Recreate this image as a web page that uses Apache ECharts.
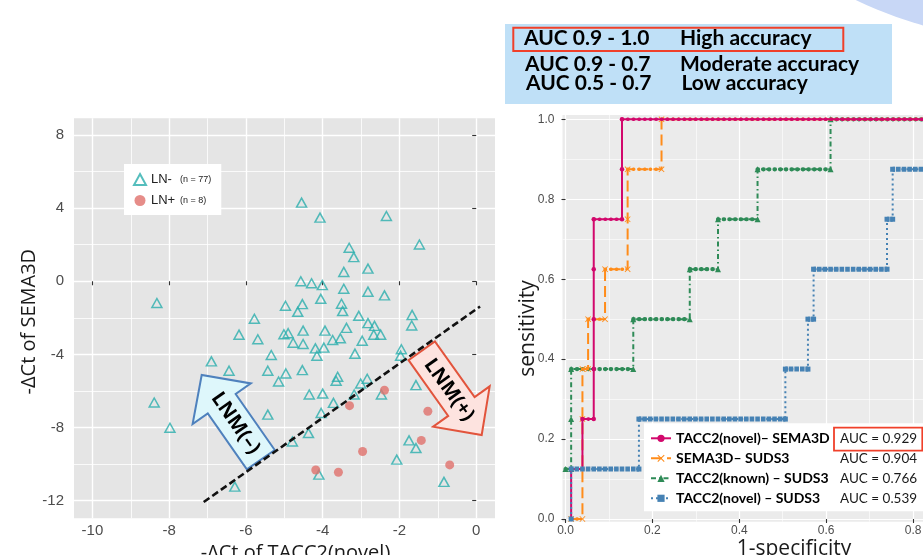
<!DOCTYPE html>
<html>
<head>
<meta charset="utf-8">
<script src="https://cdn.jsdelivr.net/npm/echarts@6/dist/echarts.min.js"></script>
<style>
html, body { margin: 0; padding: 0; background: #fff; }
#main { width: 923px; height: 555px; }
</style>
</head>
<body>
<div id="main"></div>
<script>
// left panel: -dCt of TACC2(novel) (x) vs -dCt of SEMA3D (y)
const lnNeg = [
  [-4.55, 4.30], [-4.07, 3.48], [-2.34, 3.57], [-1.48, 2.01], [-3.31, 1.83], [-3.19, 1.32],
  [-2.82, 0.69], [-3.45, 0.51], [-4.57, 0.00], [-4.29, -0.11], [-4.01, -0.21], [-3.45, -0.41],
  [-2.82, -0.57], [-2.39, -0.77], [-4.05, -0.96], [-8.32, -1.19], [-4.97, -1.34], [-4.53, -1.25],
  [-4.65, -1.67], [-3.51, -1.23], [-3.48, -1.63], [-5.78, -2.05], [-3.06, -1.89], [-1.67, -1.84],
  [-1.68, -2.42], [-2.82, -2.29], [-2.65, -2.44], [-6.18, -2.92], [-5.01, -2.90], [-4.90, -2.84],
  [-4.51, -2.70], [-3.94, -2.70], [-3.38, -2.55], [-2.67, -2.92], [-2.49, -2.92], [-5.69, -3.17],
  [-4.77, -3.36], [-4.51, -3.43], [-3.74, -3.21], [-3.54, -3.12], [-2.97, -3.25], [-4.19, -3.67],
  [-3.97, -3.63], [-4.15, -4.07], [-3.16, -3.96], [-1.95, -3.72], [-1.97, -4.07], [-5.34, -4.03],
  [-6.90, -4.38], [-6.44, -4.89], [-5.43, -4.89], [-4.96, -5.04], [-4.53, -4.86], [-5.15, -5.48],
  [-3.61, -5.22], [-3.65, -5.44], [-2.84, -5.33], [-3.01, -5.59], [-1.57, -5.68], [-4.35, -6.19],
  [-4.00, -6.14], [-2.47, -6.19], [-3.18, -6.19], [-8.39, -6.63], [-3.72, -6.65], [-4.04, -7.20],
  [-5.43, -7.29], [-7.98, -8.01], [-4.37, -8.30], [-4.79, -8.76], [-1.75, -8.70], [-1.57, -9.12],
  [-2.07, -9.75], [-4.10, -10.57], [-6.29, -11.23], [-0.84, -10.97]
];
const lnPos = [
  [-2.39, -5.96], [-3.30, -6.80], [-1.26, -7.11], [-1.43, -8.70],
  [-2.96, -9.31], [-4.18, -10.32], [-3.59, -10.44], [-0.69, -10.04]
];
const lnNames = ['LN-', 'LN+'];
const lnCounts = ['(n = 77)', '(n = 8)'];
const cutLine = [[-7.10, -12.07], [0.10, -1.38]];
const leftXTicks = [-10, -8, -6, -4, -2, 0];
const leftXMinor = [-9, -7, -5, -3, -1];
const leftYTicks = [-12, -8, -4, 0, 4, 8];
const leftYMinor = [-10, -6, -2, 2, 6];

// right panel: ROC curves (1-specificity, sensitivity)
const rocNames = ['TACC2(novel)– SEMA3D', 'SEMA3D– SUDS3', 'TACC2(known) – SUDS3', 'TACC2(novel) – SUDS3'];
const rocAuc = ['AUC = 0.929', 'AUC = 0.904', 'AUC = 0.766', 'AUC = 0.539'];
const rocNovelSema3d = [[0.013, 0], [0.013, 0.125], [0.039, 0.125], [0.039, 0.25], [0.065, 0.25], [0.065, 0.375],
  [0.065, 0.5], [0.065, 0.625], [0.065, 0.75], [0.13, 0.75], [0.13, 0.875], [0.13, 1], [1, 1]];
const rocSema3dSuds3 = [[0.013, 0], [0.039, 0], [0.039, 0.25], [0.039, 0.375], [0.052, 0.375], [0.052, 0.5],
  [0.091, 0.5], [0.091, 0.625], [0.143, 0.625], [0.143, 0.75], [0.143, 0.875], [0.221, 0.875], [0.221, 1], [1, 1]];
const rocKnownSuds3 = [[0, 0.125], [0.013, 0.125], [0.013, 0.25], [0.013, 0.375], [0.156, 0.375], [0.156, 0.5],
  [0.286, 0.5], [0.286, 0.625], [0.351, 0.625], [0.351, 0.75], [0.442, 0.75], [0.442, 0.875], [0.61, 0.875], [0.61, 1], [1, 1]];
const rocNovelSuds3 = [[0.013, 0], [0.013, 0.125], [0.169, 0.125], [0.169, 0.25], [0.506, 0.25], [0.506, 0.375],
  [0.558, 0.375], [0.558, 0.5], [0.571, 0.5], [0.571, 0.625], [0.74, 0.625], [0.74, 0.75], [0.753, 0.75],
  [0.753, 0.875], [0.87, 0.875], [0.87, 1], [1, 1]];
const rocXTicks = [0, 0.2, 0.4, 0.6, 0.8];
const rocXMinor = [0.1, 0.3, 0.5, 0.7];
const rocYTicks = [0, 0.2, 0.4, 0.6, 0.8, 1.0];
const rocYMinor = [0.1, 0.3, 0.5, 0.7, 0.9];

const accuracyRows = [['AUC 0.9 - 1.0', 'High accuracy'], ['AUC 0.9 - 0.7', 'Moderate accuracy'], ['AUC 0.5 - 0.7', 'Low accuracy']];

const rocData = [rocNovelSema3d, rocSema3dSuds3, rocKnownSuds3, rocNovelSuds3];
const rocColors = ['#d2086c', '#ff8c1a', '#2e8b57', '#4682b4'];
const rocLineTypes = ['solid', [11, 5], [5, 3, 1.5, 3], [2, 3]];
const crossPath = 'path://M0,1L1,0L5,4L9,0L10,1L6,5L10,9L9,10L5,6L1,10L0,9L4,5Z';
const rocSymbols = ['circle', crossPath, 'triangle', 'rect'];
const rocSymbolSizes = [4.5, 6, 6, 5];
const rocZ = [5, 4, 3, 6];
const rocMarkStyle = [
  { width: 3.6, type: [0.5, 5.15], cap: 'round' },
  { width: 3.4, type: [0.5, 5.15], cap: 'round' },
  { width: 4.2, type: [0.5, 5.15], cap: 'round' },
  { width: 5, type: [4.6, 1.05], cap: 'butt', dashOffset: 2.3 }
];

const tickFont = '"Liberation Sans", Arial, sans-serif';
const titleFont = '"Open Sans", "Noto Sans", sans-serif';
const boxFont = 'bold 21px Lato, "Open Sans", sans-serif';

// horizontal runs of a step curve, used to draw the dense row of ROC points
function flatRuns(points) {
  const out = [];
  for (let i = 0; i < points.length - 1; i++) {
    if (points[i][1] === points[i + 1][1] && points[i][0] !== points[i + 1][0]) {
      out.push(points[i], points[i + 1], ['-', '-']);
    }
  }
  return out;
}

function arrowShape(base, tip, shaftW, headW, headL) {
  const dx = tip[0] - base[0], dy = tip[1] - base[1];
  const len = Math.hypot(dx, dy);
  const ux = dx / len, uy = dy / len, px = -uy, py = ux;
  const hb = [tip[0] - ux * headL, tip[1] - uy * headL];
  const p = (c, w) => [c[0] + px * w, c[1] + py * w];
  return [p(base, shaftW / 2), p(hb, shaftW / 2), p(hb, headW / 2), tip,
          p(hb, -headW / 2), p(hb, -shaftW / 2), p(base, -shaftW / 2)];
}

const chart = echarts.init(document.getElementById('main'));

const axisTickStyle = { show: true, length: 4, lineStyle: { color: '#333', width: 1.1 } };

const rocSeries = [];
rocData.forEach((d, i) => {
  rocSeries.push({
    name: rocNames[i],
    type: 'line',
    xAxisIndex: 2, yAxisIndex: 2,
    data: d,
    z: rocZ[i],
    symbol: rocSymbols[i],
    symbolSize: rocSymbolSizes[i],
    showSymbol: true,
    itemStyle: { color: rocColors[i] },
    lineStyle: { color: rocColors[i], width: 2, type: rocLineTypes[i] },
    emphasis: { disabled: true },
    silent: true,
    animation: false
  });
  rocSeries.push({
    name: rocNames[i] + ' points',
    type: 'line',
    xAxisIndex: 2, yAxisIndex: 2,
    data: flatRuns(d),
    z: rocZ[i],
    symbol: 'none',
    lineStyle: Object.assign({ color: rocColors[i] }, rocMarkStyle[i]),
    emphasis: { disabled: true },
    silent: true,
    animation: false
  });
});

const option = {
  animation: false,
  grid: [
    { left: 74, top: 118.3, width: 421, height: 400, show: true, backgroundColor: '#e5e5e5', borderWidth: 0, outerBoundsMode: 'none' },
    { left: 562.5, top: 115, right: 0, height: 406.7, show: true, backgroundColor: '#ebebeb', borderWidth: 0, outerBoundsMode: 'none' }
  ],
  xAxis: [
    { type: 'value', gridIndex: 0, min: -10.48, max: 0.49,
      axisLine: { show: false },
      axisTick: Object.assign({ customValues: leftXTicks }, axisTickStyle),
      axisLabel: { customValues: leftXTicks, margin: 5, color: '#4d4d4d', fontSize: 15, fontFamily: tickFont },
      splitLine: { show: true, lineStyle: { color: '#fff', width: 1.4 } } },
    { type: 'value', gridIndex: 0, min: -10.48, max: 0.49,
      axisLine: { show: false }, axisTick: { show: false, customValues: leftXMinor }, axisLabel: { show: false },
      splitLine: { show: true, lineStyle: { color: '#fff', width: 0.8 } } },
    { type: 'value', gridIndex: 1, min: -0.0069, max: 0.8228,
      axisLine: { show: false },
      axisTick: Object.assign({ customValues: rocXTicks }, axisTickStyle),
      axisLabel: { customValues: rocXTicks, margin: 3, color: '#4d4d4d', fontSize: 12, fontFamily: tickFont,
        formatter: v => v.toFixed(1) },
      splitLine: { show: true, lineStyle: { color: '#fff', width: 1.2 } } },
    { type: 'value', gridIndex: 1, min: -0.0069, max: 0.8228,
      axisLine: { show: false }, axisTick: { show: false, customValues: rocXMinor }, axisLabel: { show: false },
      splitLine: { show: true, lineStyle: { color: '#fff', width: 0.6 } } }
  ],
  yAxis: [
    { type: 'value', gridIndex: 0, min: -12.96, max: 8.91,
      axisLine: { show: false },
      axisTick: Object.assign({ customValues: leftYTicks }, axisTickStyle),
      axisLabel: { customValues: leftYTicks, margin: 10, color: '#4d4d4d', fontSize: 15, fontFamily: tickFont },
      splitLine: { show: true, lineStyle: { color: '#fff', width: 1.4 } } },
    { type: 'value', gridIndex: 0, min: -12.96, max: 8.91,
      axisLine: { show: false }, axisTick: { show: false, customValues: leftYMinor }, axisLabel: { show: false },
      splitLine: { show: true, lineStyle: { color: '#fff', width: 0.8 } } },
    { type: 'value', gridIndex: 1, min: -0.00675, max: 1.0108,
      axisLine: { show: false },
      axisTick: Object.assign({ customValues: rocYTicks }, axisTickStyle),
      axisLabel: { customValues: rocYTicks, margin: 8, color: '#4d4d4d', fontSize: 12, fontFamily: tickFont,
        formatter: v => v.toFixed(1) },
      splitLine: { show: true, lineStyle: { color: '#fff', width: 1.2 } } },
    { type: 'value', gridIndex: 1, min: -0.00675, max: 1.0108,
      axisLine: { show: false }, axisTick: { show: false, customValues: rocYMinor }, axisLabel: { show: false },
      splitLine: { show: true, lineStyle: { color: '#fff', width: 0.6 } } }
  ],
  legend: [
    { data: lnNames, left: 124, top: 164, orient: 'vertical', backgroundColor: '#fff',
      padding: [9, 10, 8, 9], itemGap: 8, itemWidth: 12, itemHeight: 11,
      selectedMode: false,
      formatter: name => `{a|${name}}{b|${lnCounts[lnNames.indexOf(name)]}}`,
      textStyle: { rich: {
        a: { width: 29, fontSize: 13, color: '#222', fontFamily: tickFont },
        b: { fontSize: 9, color: '#222', fontFamily: tickFont }
      } } },
    { data: rocNames, left: 644, top: 423.3, orient: 'vertical', backgroundColor: '#fff',
      padding: [8, 6, 6, 6], itemGap: 6, itemWidth: 20, itemHeight: 9,
      selectedMode: false,
      formatter: name => `{n|${name}}{a|${rocAuc[rocNames.indexOf(name)]}}`,
      textStyle: { rich: {
        n: { width: 164, lineHeight: 14, fontSize: 14, fontWeight: 'bold', color: '#000', fontFamily: 'Lato, sans-serif' },
        a: { lineHeight: 14, fontSize: 13.5, color: '#1a1a1a', fontFamily: 'Lato, sans-serif' }
      } } }
  ],
  series: [
    { name: lnNames[0], type: 'scatter', xAxisIndex: 0, yAxisIndex: 0, data: lnNeg, z: 3,
      symbol: 'triangle', symbolSize: [10, 9],
      itemStyle: { color: 'rgba(0,0,0,0)', borderColor: '#2aaeac', borderWidth: 1.5 },
      emphasis: { disabled: true }, silent: true },
    { name: lnNames[1], type: 'scatter', xAxisIndex: 0, yAxisIndex: 0, data: lnPos, z: 3,
      symbol: 'circle', symbolSize: 9,
      itemStyle: { color: '#e0716b' },
      emphasis: { disabled: true }, silent: true },
    { name: 'cut', type: 'line', xAxisIndex: 0, yAxisIndex: 0, data: cutLine, z: 10,
      symbol: 'none', lineStyle: { color: '#111', width: 2.6, type: [7, 3.5] }, silent: true }
  ].concat(rocSeries),
  graphic: [
    { type: 'circle', shape: { cx: 1030, cy: -360, r: 400 }, style: { fill: '#c8d7f6' }, z: 1 },
    { type: 'rect', shape: { x: 505, y: 24, width: 387, height: 80 }, style: { fill: '#bfe0f7' }, z: 1 },
    { type: 'rect', shape: { x: 513.3, y: 27.7, width: 330, height: 23.3 },
      style: { fill: 'none', stroke: '#f0402a', lineWidth: 2 }, z: 2 },
    ...accuracyRows.flatMap((row, i) => {
      const ys = [38.5, 64, 83];
      const xs = [[524, 680], [525, 680], [526, 681.5]];
      return [
        { type: 'text', z: 3, style: { text: row[0], x: xs[i][0], y: ys[i], fill: '#000',
          font: boxFont, verticalAlign: 'middle' } },
        { type: 'text', z: 3, style: { text: row[1], x: xs[i][1], y: ys[i], fill: '#000',
          font: boxFont, verticalAlign: 'middle' } }
      ];
    }),
    { type: 'polygon', z: 5,
      shape: { points: arrowShape([260.8, 459.7], [201.7, 375], 34, 71, 35) },
      style: { fill: '#def7fb', stroke: '#4f81bd', lineWidth: 2 } },
    { type: 'polygon', z: 5,
      shape: { points: arrowShape([421.7, 350.8], [481.7, 435], 32.4, 69.5, 35) },
      style: { fill: '#fde3df', stroke: '#e2543c', lineWidth: 2 } },
    { type: 'text', z: 6, x: 235.5, y: 423.3, rotation: -55.1 * Math.PI / 180,
      style: { text: 'LNM(–)', x: 0, y: 0, fill: '#000', font: 'bold 20px "Open Sans", sans-serif',
        align: 'center', verticalAlign: 'middle' } },
    { type: 'text', z: 6, x: 449, y: 390, rotation: -54.5 * Math.PI / 180,
      style: { text: 'LNM(+)', x: 0, y: 0, fill: '#000', font: 'bold 20px "Open Sans", sans-serif',
        align: 'center', verticalAlign: 'middle' } },
    { type: 'text', z: 6, x: 29.5, y: 321.7, rotation: Math.PI / 2,
      style: { text: '-ΔCt of SEMA3D', x: 0, y: 0, fill: '#1a1a1a', font: '20px ' + titleFont,
        align: 'center', verticalAlign: 'middle' } },
    { type: 'text', z: 6,
      style: { text: '-ΔCt of TACC2(novel)', x: 295.5, y: 553, fill: '#1a1a1a', font: '20px ' + titleFont,
        align: 'center', verticalAlign: 'middle' } },
    { type: 'text', z: 6, x: 528.5, y: 328.5, rotation: Math.PI / 2,
      style: { text: 'sensitivity', x: 0, y: 0, fill: '#1a1a1a', font: '21px ' + titleFont,
        align: 'center', verticalAlign: 'middle' } },
    { type: 'text', z: 6,
      style: { text: '1-specificity', x: 794, y: 549, fill: '#1a1a1a', font: '21px ' + titleFont,
        align: 'center', verticalAlign: 'middle' } },
    { type: 'rect', z: 20, shape: { x: 834, y: 427.7, width: 88.3, height: 23 },
      style: { fill: 'none', stroke: '#f0402a', lineWidth: 1.8 } }
  ]
};

chart.setOption(option);
window.addEventListener('resize', () => chart.resize());
</script>
</body>
</html>
